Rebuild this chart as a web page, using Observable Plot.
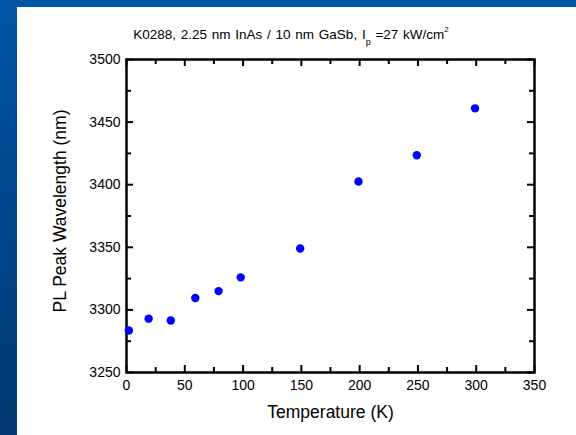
<!DOCTYPE html>
<html>
<head>
<meta charset="utf-8">
<script src="https://cdn.jsdelivr.net/npm/d3@7"></script>
<script src="https://cdn.jsdelivr.net/npm/@observablehq/plot@0.6"></script>
<style>
  html, body { margin: 0; padding: 0; }
  #page { position: relative; width: 576px; height: 435px; overflow: hidden;
    background: linear-gradient(to bottom, #0055a5 0%, #00468a 50%, #003a70 100%);
    font-family: "Liberation Sans", Arial, sans-serif; }
  #panel { position: absolute; left: 17px; top: 7px; right: 0; bottom: 0; background: #fff; }
  #chart { position: absolute; left: 0; top: 0; }
  #title { position: absolute; left: 0; width: 582px; top: 25px; text-align: center;
    font-size: 13.5px; color: #000; white-space: nowrap; word-spacing: 1px; }
  #title sub { font-size: 9px; vertical-align: -6px; }
  #title sup { font-size: 8px; vertical-align: 7px; }
</style>
</head>
<body>
<div id="page">
  <div id="panel"></div>
  <div id="chart"></div>
  <div id="title">K0288, 2.25 nm InAs / 10 nm GaSb, I<sub>p</sub> =27 kW/cm<sup>2</sup></div>
</div>
<script>
const temperature = [2, 19, 38, 59, 79, 98, 149, 199, 249, 299];
const wavelength = [3283.5, 3293, 3291.5, 3309.5, 3315, 3326, 3349, 3402.5, 3423.5, 3461];
const xTicks = [0, 50, 100, 150, 200, 250, 300, 350];
const xMinor = [25, 75, 125, 175, 225, 275, 325];
const yTicks = [3250, 3300, 3350, 3400, 3450, 3500];
const yMinor = [3275, 3325, 3375, 3425, 3475];
const xLabel = "Temperature (K)";
const yLabel = "PL Peak Wavelength (nm)";

const data = temperature.map((t, i) => ({t, w: wavelength[i]}));
const mL = 126, mR = 42, mT = 59, mB = 63, W = 576, H = 435;
const ph = H - mT - mB, pw = W - mL - mR;

const chart = Plot.plot({
  width: W, height: H,
  marginLeft: mL, marginRight: mR, marginTop: mT, marginBottom: mB,
  style: {background: "transparent", fontFamily: "'Liberation Sans', Arial, sans-serif", color: "#000"},
  x: {domain: [0, 350]},
  y: {domain: [3250, 3500]},
  marks: [
    Plot.axisX(xTicks, {tickSize: 0, tickPadding: 8, fontSize: 14, label: null, tickFormat: d => String(d)}),
    Plot.axisY(yTicks, {tickSize: 0, tickPadding: 6, fontSize: 14, label: null, tickFormat: d => String(d)}),
    Plot.tickX(xTicks, {x: d => d, insetTop: ph - 7, stroke: "#000", strokeWidth: 2}),
    Plot.tickX(xTicks, {x: d => d, insetBottom: ph - 7, stroke: "#000", strokeWidth: 2}),
    Plot.tickX(xMinor, {x: d => d, insetTop: ph - 5, stroke: "#000", strokeWidth: 2}),
    Plot.tickX(xMinor, {x: d => d, insetBottom: ph - 5, stroke: "#000", strokeWidth: 2}),
    Plot.tickY(yTicks, {y: d => d, insetRight: pw - 7, stroke: "#000", strokeWidth: 2}),
    Plot.tickY(yTicks, {y: d => d, insetLeft: pw - 7, stroke: "#000", strokeWidth: 2}),
    Plot.tickY(yMinor, {y: d => d, insetRight: pw - 5, stroke: "#000", strokeWidth: 2}),
    Plot.tickY(yMinor, {y: d => d, insetLeft: pw - 5, stroke: "#000", strokeWidth: 2}),
    Plot.frame({stroke: "#000", strokeWidth: 2.5}),
    Plot.dot(data, {x: "t", y: "w", r: 4.2, fill: "#0000ff", stroke: "none"}),
    Plot.text([xLabel], {frameAnchor: "bottom", dy: 40, lineAnchor: "middle", textAnchor: "middle", fontSize: 17.5, fill: "#000"}),
    Plot.text([yLabel], {frameAnchor: "left", dx: -66, dy: -5, rotate: -90, lineAnchor: "middle", textAnchor: "middle", fontSize: 17.5, fill: "#000"})
  ]
});
document.getElementById("chart").appendChild(chart);
</script>
</body>
</html>
